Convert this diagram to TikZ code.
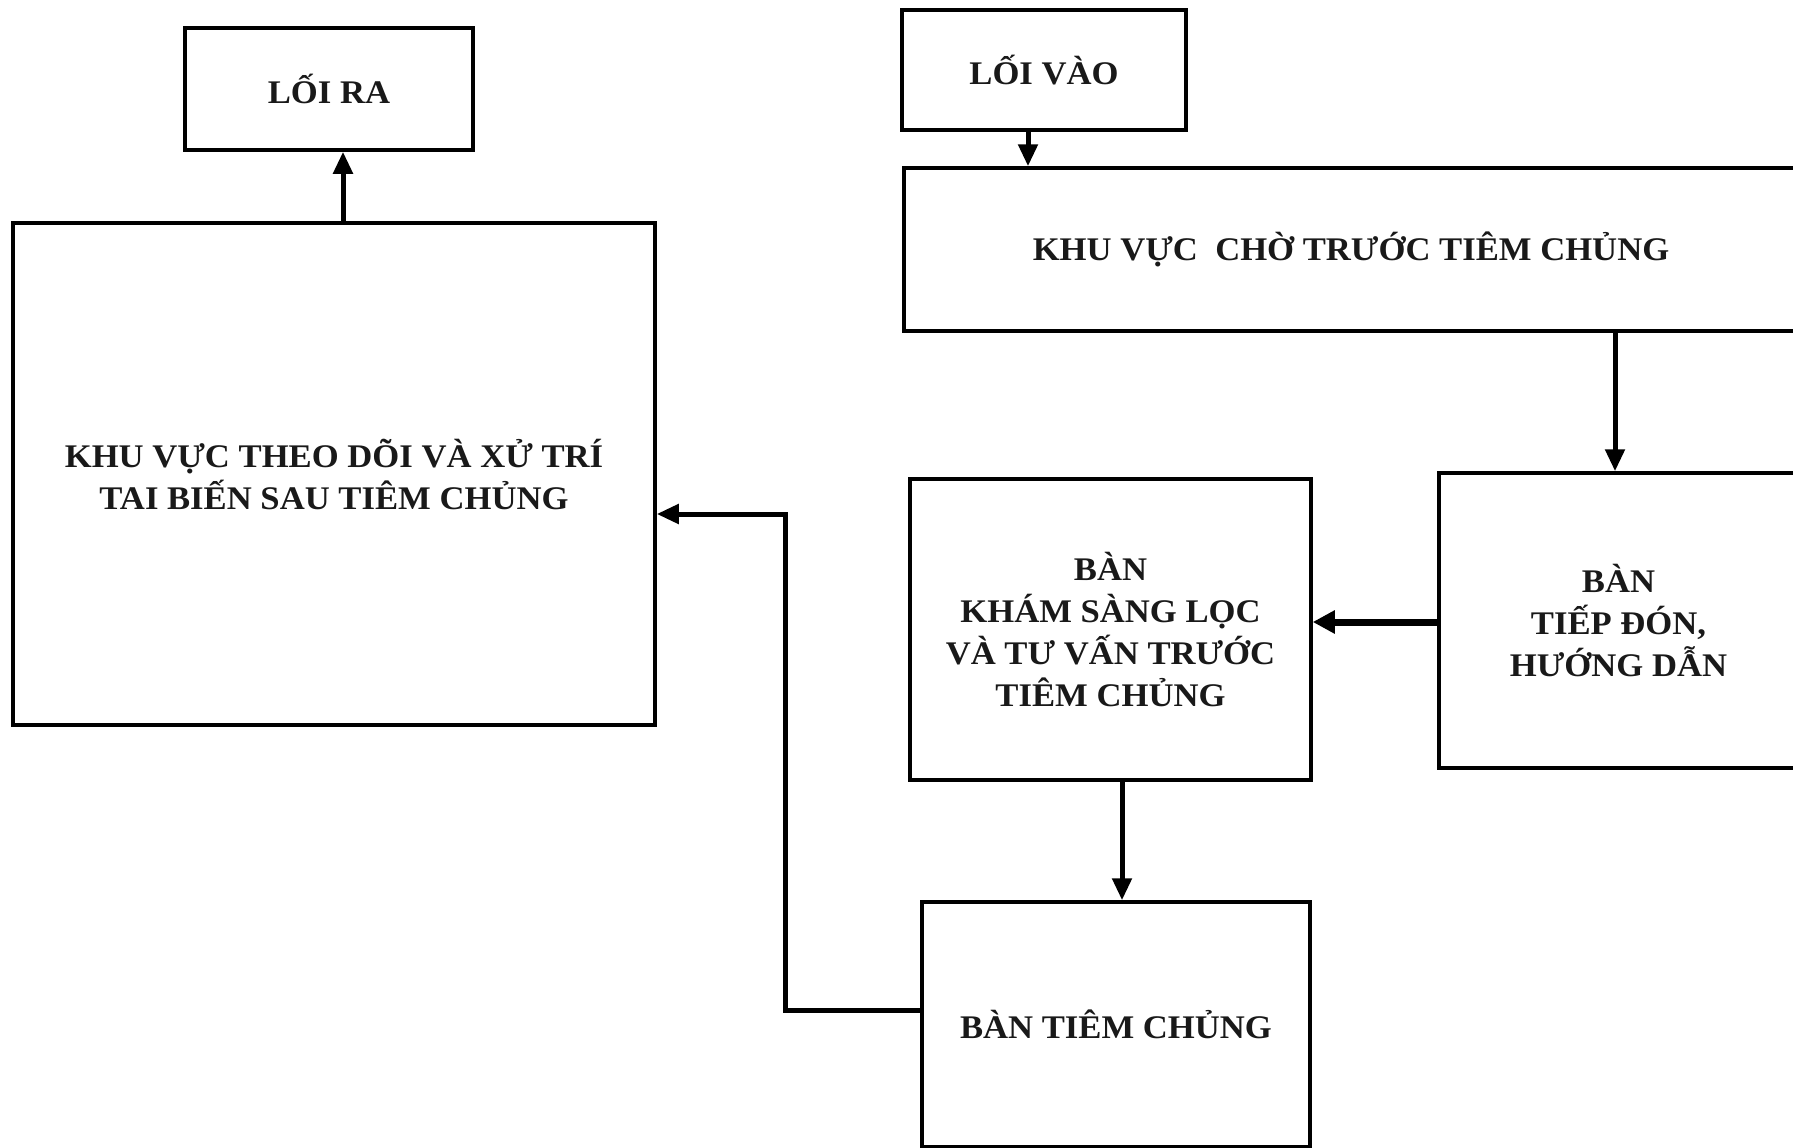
\documentclass[tikz,border=0pt]{standalone}
\usepackage{fontspec}
\setmainfont[FakeStretch=1.05]{Liberation Serif}
\usetikzlibrary{arrows.meta}
\tikzset{
  box/.style={draw=black, line width=3.5pt, inner sep=0pt, align=center,
    font=\bfseries\fontsize{33}{42}\selectfont, text=black!90},
  arr/.style={line width=5pt, -{Triangle[length=22pt,width=19pt]}},
  thickarr/.style={line width=7pt, -{Triangle[length=22pt,width=22pt]}}
}
\begin{document}
\begin{tikzpicture}[x=1pt,y=-1pt]
\useasboundingbox (0,0) rectangle (1793,1148);
\node[box, minimum width=288pt, minimum height=122pt] (ra) at (329,89) {LỐI RA};
\node[box, minimum width=284pt, minimum height=120pt] (vao) at (1044,70) {LỐI VÀO};
\node[box, minimum width=894pt, minimum height=163pt] (cho) at (1351,249.5) {KHU VỰC\ \ CHỜ TRƯỚC TIÊM CHỦNG};
\node[box, minimum width=642pt, minimum height=502pt] (theodoi) at (334,474) {KHU VỰC THEO DÕI VÀ XỬ TRÍ\\TAI BIẾN SAU TIÊM CHỦNG};
\node[box, minimum width=401pt, minimum height=301pt] (kham) at (1110.5,629.5) {BÀN\\KHÁM SÀNG LỌC\\VÀ TƯ VẤN TRƯỚC\\TIÊM CHỦNG};
\node[box, minimum width=359pt, minimum height=295pt] (tiepdon) at (1618.5,620.5) {BÀN\\TIẾP ĐÓN,\\HƯỚNG DẪN};
\node[box, minimum width=388pt, minimum height=245pt] (tiem) at (1116,1024.5) {BÀN TIÊM CHỦNG};
\coordinate (c1) at (343,0);
\coordinate (c2) at (1028,0);
\coordinate (c3) at (1615,0);
\coordinate (c4) at (0,622);
\coordinate (c5) at (1122,0);
\coordinate (c6) at (0,1010);
\coordinate (c7) at (0,514);
\coordinate (corner1) at (785,1010);
\coordinate (corner2) at (785,514);
\draw[arr] (theodoi.north -| c1) -- (ra.south -| c1);
\draw[arr] (vao.south -| c2) -- (cho.north -| c2);
\draw[arr] (cho.south -| c3) -- (tiepdon.north -| c3);
\draw[thickarr] (tiepdon.west |- c4) -- (kham.east |- c4);
\draw[arr] (kham.south -| c5) -- (tiem.north -| c5);
\draw[arr] (tiem.west |- c6) -- (corner1) -- (corner2) -- (theodoi.east |- c7);
\end{tikzpicture}
\end{document}
